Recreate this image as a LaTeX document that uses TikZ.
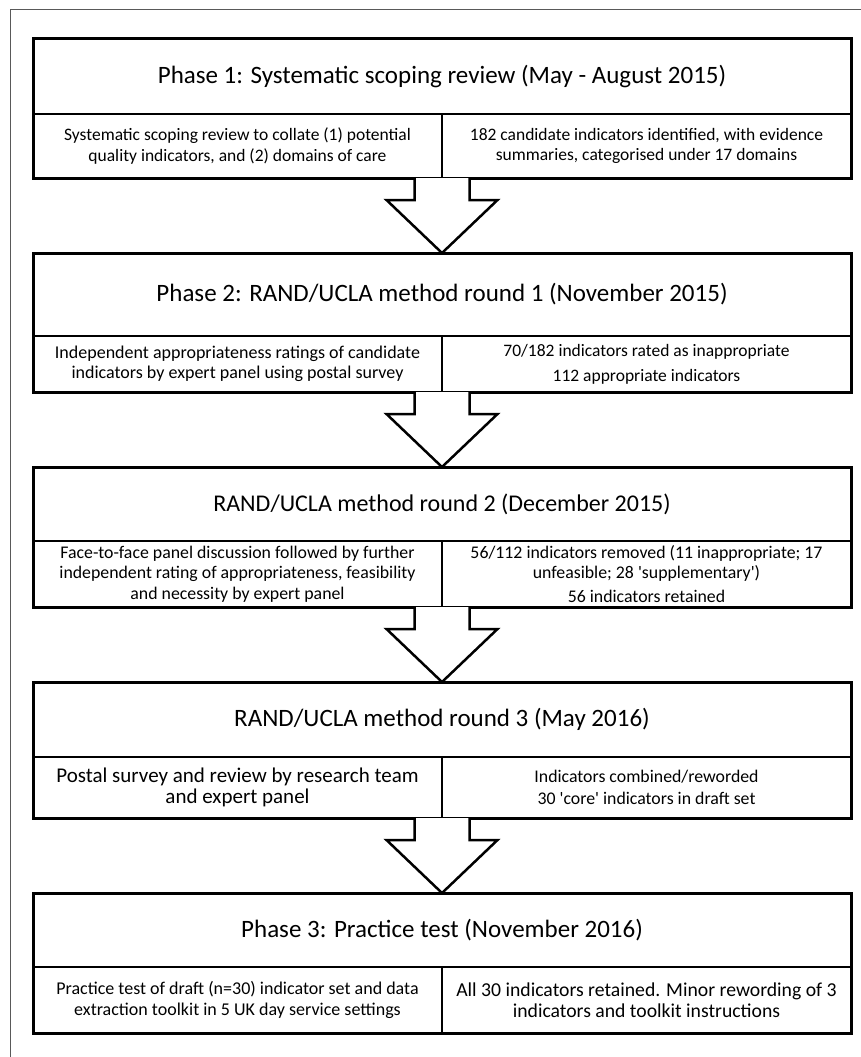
\documentclass[tikz,border=0pt]{standalone}
\usepackage{fontspec}
\setmainfont{Carlito}
\usetikzlibrary{calc,positioning}

\begin{document}
\begin{tikzpicture}[x=1pt, y=1pt, line join=miter]
\tikzstyle{head}=[draw, line width=2pt, outer sep=0pt, inner sep=2pt, minimum width=818pt, font=\fontsize{25}{30}\selectfont]
\tikzstyle{sub}=[draw, line width=2pt, outer sep=0pt, inner sep=2pt, minimum width=409pt, align=center, font=\fontsize{17.5}{20.5}\selectfont]
\tikzstyle{outline}=[line width=3pt]
\tikzstyle{blockarrow}=[line width=2.5pt, fill=white]

\useasboundingbox (0,0) rectangle (861,-1057);
\draw[gray!70!black, line width=1pt] (861,-10) -- (10,-10) -- (10,-1057);

% Phase 1
\node[head, minimum height=75pt, anchor=north] (h1) at (442,-39) {Phase 1: Systematic scoping review (May - August 2015)};
\node[sub, minimum height=64pt, anchor=north west] (l1) at (h1.south west) {Systematic scoping review to collate (1) potential\\quality indicators, and (2) domains of care};
\node[sub, minimum height=64pt, anchor=north east] (r1) at (h1.south east) {182 candidate indicators identified, with evidence\\summaries, categorised under 17 domains};
\draw[outline] (h1.north west) rectangle (r1.south east);

% Phase 2, round 1
\node[head, minimum height=83pt, anchor=north] (h2) at (442,-253) {Phase 2: RAND/UCLA method round 1 (November 2015)};
\node[sub, minimum height=56pt, anchor=north west, font=\fontsize{18}{20}\selectfont] (l2) at (h2.south west) {Independent appropriateness ratings of candidate\\indicators by expert panel using postal survey};
\node[sub, minimum height=56pt, anchor=north east, font=\fontsize{17.5}{20}\selectfont] (r2) at (h2.south east) {70/182 indicators rated as inappropriate\\[5pt]112 appropriate indicators};
\draw[outline] (h2.north west) rectangle (r2.south east);

% round 2
\node[head, minimum height=74pt, anchor=north, font=\fontsize{24}{29}\selectfont] (h3) at (442,-467) {RAND/UCLA method round 2 (December 2015)};
\node[sub, minimum height=66pt, anchor=north west, font=\fontsize{17.8}{20.5}\selectfont] (l3) at (h3.south west) {Face-to-face panel discussion followed by further\\independent rating of appropriateness, feasibility\\and necessity by expert panel};
\node[sub, minimum height=66pt, anchor=north east, font=\fontsize{17.8}{20}\selectfont] (r3) at (h3.south east) {56/112 indicators removed (11 inappropriate; 17\\unfeasible; 28 \textquotesingle supplementary\textquotesingle)\\[4pt]56 indicators retained};
\draw[outline] (h3.north west) rectangle (r3.south east);

% round 3
\node[head, minimum height=75pt, anchor=north] (h4) at (442,-682) {RAND/UCLA method round 3 (May 2016)};
\node[sub, minimum height=61pt, anchor=north west, font=\fontsize{21}{21.5}\selectfont] (l4) at (h4.south west) {Postal survey and review by research team\\and expert panel};
\node[sub, minimum height=61pt, anchor=north east, font=\fontsize{17.8}{22}\selectfont] (r4) at (h4.south east) {Indicators combined/reworded\\30 \textquotesingle core\textquotesingle{} indicators in draft set};
\draw[outline] (h4.north west) rectangle (r4.south east);

% Phase 3
\node[head, minimum height=74pt, anchor=north] (h5) at (442,-893) {Phase 3: Practice test (November 2016)};
\node[sub, minimum height=66pt, anchor=north west, font=\fontsize{18}{20.5}\selectfont] (l5) at (h5.south west) {Practice test of draft (n=30) indicator set and data\\extraction toolkit in 5 UK day service settings};
\node[sub, minimum height=66pt, anchor=north east, font=\fontsize{19.7}{21}\selectfont] (r5) at (h5.south east) {All 30 indicators retained. Minor rewording of 3\\indicators and toolkit instructions};
\draw[outline] (h5.north west) rectangle (r5.south east);

% block arrows between the boxes
\foreach \a/\b in {1/2,2/3,3/4,4/5}
  \draw[blockarrow] ($(l\a.south east)+(-27.5,0)$) -- ++(0,-22) -- ++(-28,0) -- (h\b.north)
    -- ($(l\a.south east)+(55.5,-22)$) -- ++(-28,0) -- ++(0,22);
\end{tikzpicture}
\end{document}
